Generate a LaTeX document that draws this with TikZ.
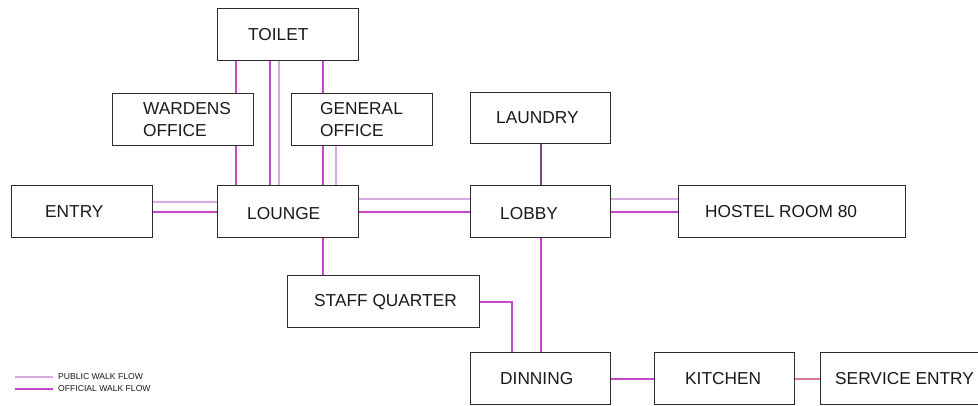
\documentclass[tikz,border=0pt]{standalone}
\usepackage{fontspec}
\setmainfont{Liberation Sans}
\usetikzlibrary{calc}
\definecolor{boxgray}{RGB}{45,45,45}
\definecolor{offcol}{RGB}{200,70,200}
\definecolor{pubcol}{RGB}{214,172,222}
\definecolor{plumline}{RGB}{125,70,115}
\definecolor{svcline}{RGB}{218,118,162}
\definecolor{txt}{RGB}{25,25,25}
\begin{document}
\begin{tikzpicture}[x=1pt,y=-1pt,
  room/.style={draw=boxgray, line width=1.2pt, minimum height=52pt, inner sep=0pt, anchor=north west},
  lbl/.style={inner sep=0pt, anchor=west, text=txt, align=left,
              font=\fontsize{17.3}{22}\selectfont},
  official/.style={draw=offcol, line width=2pt},
  public/.style={draw=pubcol, line width=1.4pt},
  legend/.style={inner xsep=5pt, inner ysep=0pt, anchor=west, text=txt,
                 font=\fontsize{8.6}{10}\selectfont},
 ]
\clip (0,0) rectangle (978,405);
\fill[white] (0,0) rectangle (978,405);

% rooms
\node[room, minimum width=141pt, label={[lbl, xshift=31pt]west:TOILET}] (toilet) at (217,8) {};
\node[room, minimum width=141pt, label={[lbl, xshift=31pt]west:WARDENS\\OFFICE}] (wardens) at (112,93) {};
\node[room, minimum width=141pt, label={[lbl, xshift=29pt]west:GENERAL\\OFFICE}] (general) at (291,93) {};
\node[room, minimum width=141pt, label={[lbl, xshift=34pt]west:ENTRY}] (entry) at (11,185) {};
\node[room, minimum width=141pt, label={[lbl, xshift=30pt, yshift=-2pt]west:LOUNGE}] (lounge) at (217,185) {};
\node[room, minimum width=192pt, label={[lbl, xshift=27pt]west:STAFF QUARTER}] (staff) at (287,275) {};
\node[room, minimum width=140pt, minimum height=51pt, label={[lbl, xshift=26pt]west:LAUNDRY}] (laundry) at (470,92) {};
\node[room, minimum width=140pt, label={[lbl, xshift=30pt, yshift=-2pt]west:LOBBY}] (lobby) at (470,185) {};
\node[room, minimum width=227pt, label={[lbl, xshift=27pt]west:HOSTEL ROOM 80}] (hostel) at (678,185) {};
\node[room, minimum width=140pt, label={[lbl, xshift=30pt]west:DINNING}] (dinning) at (470,352) {};
\node[room, minimum width=140pt, label={[lbl, xshift=31pt]west:KITCHEN}] (kitchen) at (654,352) {};
\node[room, minimum width=185pt, label={[lbl, xshift=15pt]west:SERVICE ENTRY}] (service) at (820,352) {};

% walks between toilet, offices and lounge
\coordinate (tw) at ($(toilet.south west)+(19,0)$);
\draw[official] (tw) -- (tw |- wardens.north);
\draw[official] (tw |- wardens.south) -- (tw |- lounge.north);
\coordinate (tl1) at ($(toilet.south west)+(53,0)$);
\coordinate (tl2) at ($(toilet.south west)+(62,0)$);
\draw[official] (tl1) -- (tl1 |- lounge.north);
\draw[public] (tl2) -- (tl2 |- lounge.north);
\coordinate (tg) at ($(toilet.south west)+(106,0)$);
\draw[official] (tg) -- (tg |- general.north);
\draw[official] (tg |- general.south) -- (tg |- lounge.north);
\coordinate (gl) at ($(general.south west)+(45,0)$);
\draw[public] (gl) -- (gl |- lounge.north);

% entry - lounge - lobby - hostel
\coordinate (ep) at ($(entry.north east)+(0,17)$);
\draw[public] (ep) -- (ep -| lounge.west);
\draw[official] (entry.east) -- (lounge.west);
\coordinate (lp) at ($(lounge.north east)+(0,14)$);
\draw[public] (lp) -- (lp -| lobby.west);
\draw[official] (lounge.east) -- (lobby.west);
\coordinate (hp) at ($(lobby.north east)+(0,14)$);
\draw[public] (hp) -- (hp -| hostel.west);
\draw[official] (lobby.east) -- (hostel.west);

% service side
\draw[plumline, line width=2pt] (laundry.south) -- (lobby.north);
\draw[official] (tg |- lounge.south) -- (tg |- staff.north);
\draw[official] (lobby.south) -- (dinning.north);
\coordinate (sd) at ($(dinning.north west)+(42,0)$);
\draw[official] (staff.east) -| (sd);
\draw[official] (dinning.east) -- (kitchen.west);
\draw[svcline, line width=2pt] (kitchen.east) -- (service.west);

% key
\node[legend] (pubkey) at (53,377) {PUBLIC WALK FLOW};
\node[legend] (offkey) at (53,389) {OFFICIAL WALK FLOW};
\coordinate (pubstart) at (15,377);
\coordinate (offstart) at (15,389);
\draw[public] (pubstart) -- (pubkey.west);
\draw[official] (offstart) -- (offkey.west);
\end{tikzpicture}
\end{document}
